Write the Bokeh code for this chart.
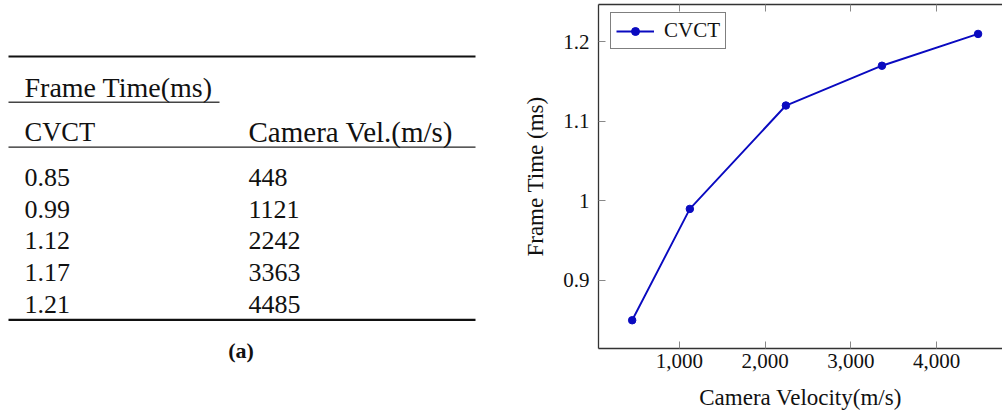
from bokeh.plotting import figure
from bokeh.layouts import row
from bokeh.models import (Range1d, FixedTicker, NumeralTickFormatter,
                          CustomJSTickFormatter, LinearAxis)
from bokeh.core.properties import value
from bokeh.embed import file_html
from bokeh.resources import INLINE

# ---------------- data ----------------
velocity = [448, 1121, 2242, 3363, 4485]
frame_time = [0.85, 0.99, 1.12, 1.17, 1.21]
series_name = "CVCT"
x_ticks = [1000, 2000, 3000, 4000]
y_ticks = [0.9, 1.0, 1.1, 1.2]
x_label = "Camera Velocity(m/s)"
y_label = "Frame Time (ms)"
table_group_header = "Frame Time(ms)"
table_col_headers = ["CVCT", "Camera Vel.(m/s)"]
caption = "(a)"

FONT = "Liberation Serif"
BLUE = "#0a0ac0"
H = 414
BORDER_TOP = 4
BORDER_BOTTOM = 66

# ---------------- table (left) ----------------
TW = 520
t = figure(width=TW, height=H, x_range=Range1d(0, TW), y_range=Range1d(H, 0),
           x_axis_type=None, y_axis_type=None, output_backend="svg",
           toolbar_location=None, min_border=0, frame_align=False)
t.grid.visible = False
t.outline_line_color = None

rule_x0, rule_x1 = 8, 475
# booktabs-style rules
t.segment(x0=[rule_x0, rule_x0], x1=[rule_x1, rule_x1], y0=[56, 319.3],
          y1=[56, 319.3], line_color="#111111", line_width=2.2)
t.segment(x0=[rule_x0], x1=[rule_x1], y0=[146.7], y1=[146.7],
          line_color="#222222", line_width=1.3)
t.segment(x0=[rule_x0], x1=[219], y0=[101.7], y1=[101.7],
          line_color="#444444", line_width=1.4)

col_x = [24, 248]
t.text(x=[col_x[0]], y=[86.7], text=[table_group_header],
       text_font=value(FONT), text_font_size="28px", text_color="#111111",
       text_baseline="alphabetic", text_align="left")
t.text(x=[col_x[0]], y=[131.7], text=[table_col_headers[0]],
       text_font=value(FONT), text_font_size="26.5px", text_color="#111111",
       text_baseline="alphabetic", text_align="left")
t.text(x=[col_x[1]], y=[131.7], text=[table_col_headers[1]],
       text_font=value(FONT), text_font_size="29px", text_color="#111111",
       text_baseline="alphabetic", text_align="left")

row_y0, row_step = 177.0, 31.7
rows_y = [row_y0 + i * row_step for i in range(len(frame_time))]
t.text(x=[col_x[0]] * len(frame_time), y=rows_y,
       text=[f"{v:.2f}" for v in frame_time],
       text_font=value(FONT), text_font_size="26px", text_color="#111111",
       text_baseline="alphabetic", text_align="left")
t.text(x=[col_x[1]] * len(velocity), y=rows_y,
       text=[str(v) for v in velocity],
       text_font=value(FONT), text_font_size="26px", text_color="#111111",
       text_baseline="alphabetic", text_align="left")
t.text(x=[240.5], y=[350], text=[caption], text_font=value(FONT),
       text_font_size="22px", text_font_style="bold", text_color="#111111",
       text_baseline="middle", text_align="center")

# ---------------- chart (right) ----------------
p = figure(width=1002 - TW, height=H,
           x_range=Range1d(55, 4770), y_range=Range1d(0.8145, 1.247),
           output_backend="svg", toolbar_location=None,
           min_border_left=76, min_border_right=0,
           min_border_top=BORDER_TOP, min_border_bottom=BORDER_BOTTOM)
p.grid.visible = False
p.outline_line_color = None
p.background_fill_color = "white"

p.line(velocity, frame_time, line_color=BLUE, line_width=1.9,
       legend_label=series_name)
p.scatter(velocity, frame_time, size=7.5, fill_color=BLUE, line_color=BLUE,
          legend_label=series_name)

bottom = p.below[0]
left = p.left[0]
bottom.ticker = FixedTicker(ticks=x_ticks)
bottom.formatter = NumeralTickFormatter(format="0,0")
left.ticker = FixedTicker(ticks=y_ticks)
left.formatter = CustomJSTickFormatter(code="return tick.toString();")
bottom.axis_label = x_label
left.axis_label = y_label

top = LinearAxis(ticker=FixedTicker(ticks=x_ticks),
                 formatter=CustomJSTickFormatter(code="return '';"))
p.add_layout(top, "above")

for ax in [bottom, left, top]:
    ax.axis_line_color = "#333333"
    ax.axis_line_width = 1.3
    ax.major_tick_in = 7
    ax.major_tick_out = 0
    ax.major_tick_line_color = "#888888"
    ax.major_tick_line_width = 1
    ax.minor_tick_line_color = None
    ax.major_label_text_font = FONT
    ax.major_label_text_font_size = "21px"
    ax.major_label_text_color = "#111111"
    ax.axis_label_text_font = FONT
    ax.axis_label_text_font_size = "23px"
    ax.axis_label_text_font_style = "normal"
    ax.axis_label_text_color = "#111111"

top.major_label_text_font_size = "0px"
top.major_label_standoff = 0

bottom.major_label_standoff = 5
bottom.axis_label_standoff = 14
left.major_label_standoff = 9
left.axis_label_standoff = 12

lg = p.legend[0]
lg.location = (12, 299)
lg.margin = 0
lg.padding = 5
lg.spacing = 0
lg.border_line_color = "black"
lg.border_line_width = 1
lg.background_fill_color = "white"
lg.background_fill_alpha = 1
lg.label_text_font = FONT
lg.label_text_font_size = "21px"
lg.label_text_color = "#111111"
lg.glyph_width = 38
lg.glyph_height = 20
lg.label_standoff = 10
lg.label_height = 20

layout = row(t, p)
open("out.html", "w").write(file_html(layout, INLINE))
